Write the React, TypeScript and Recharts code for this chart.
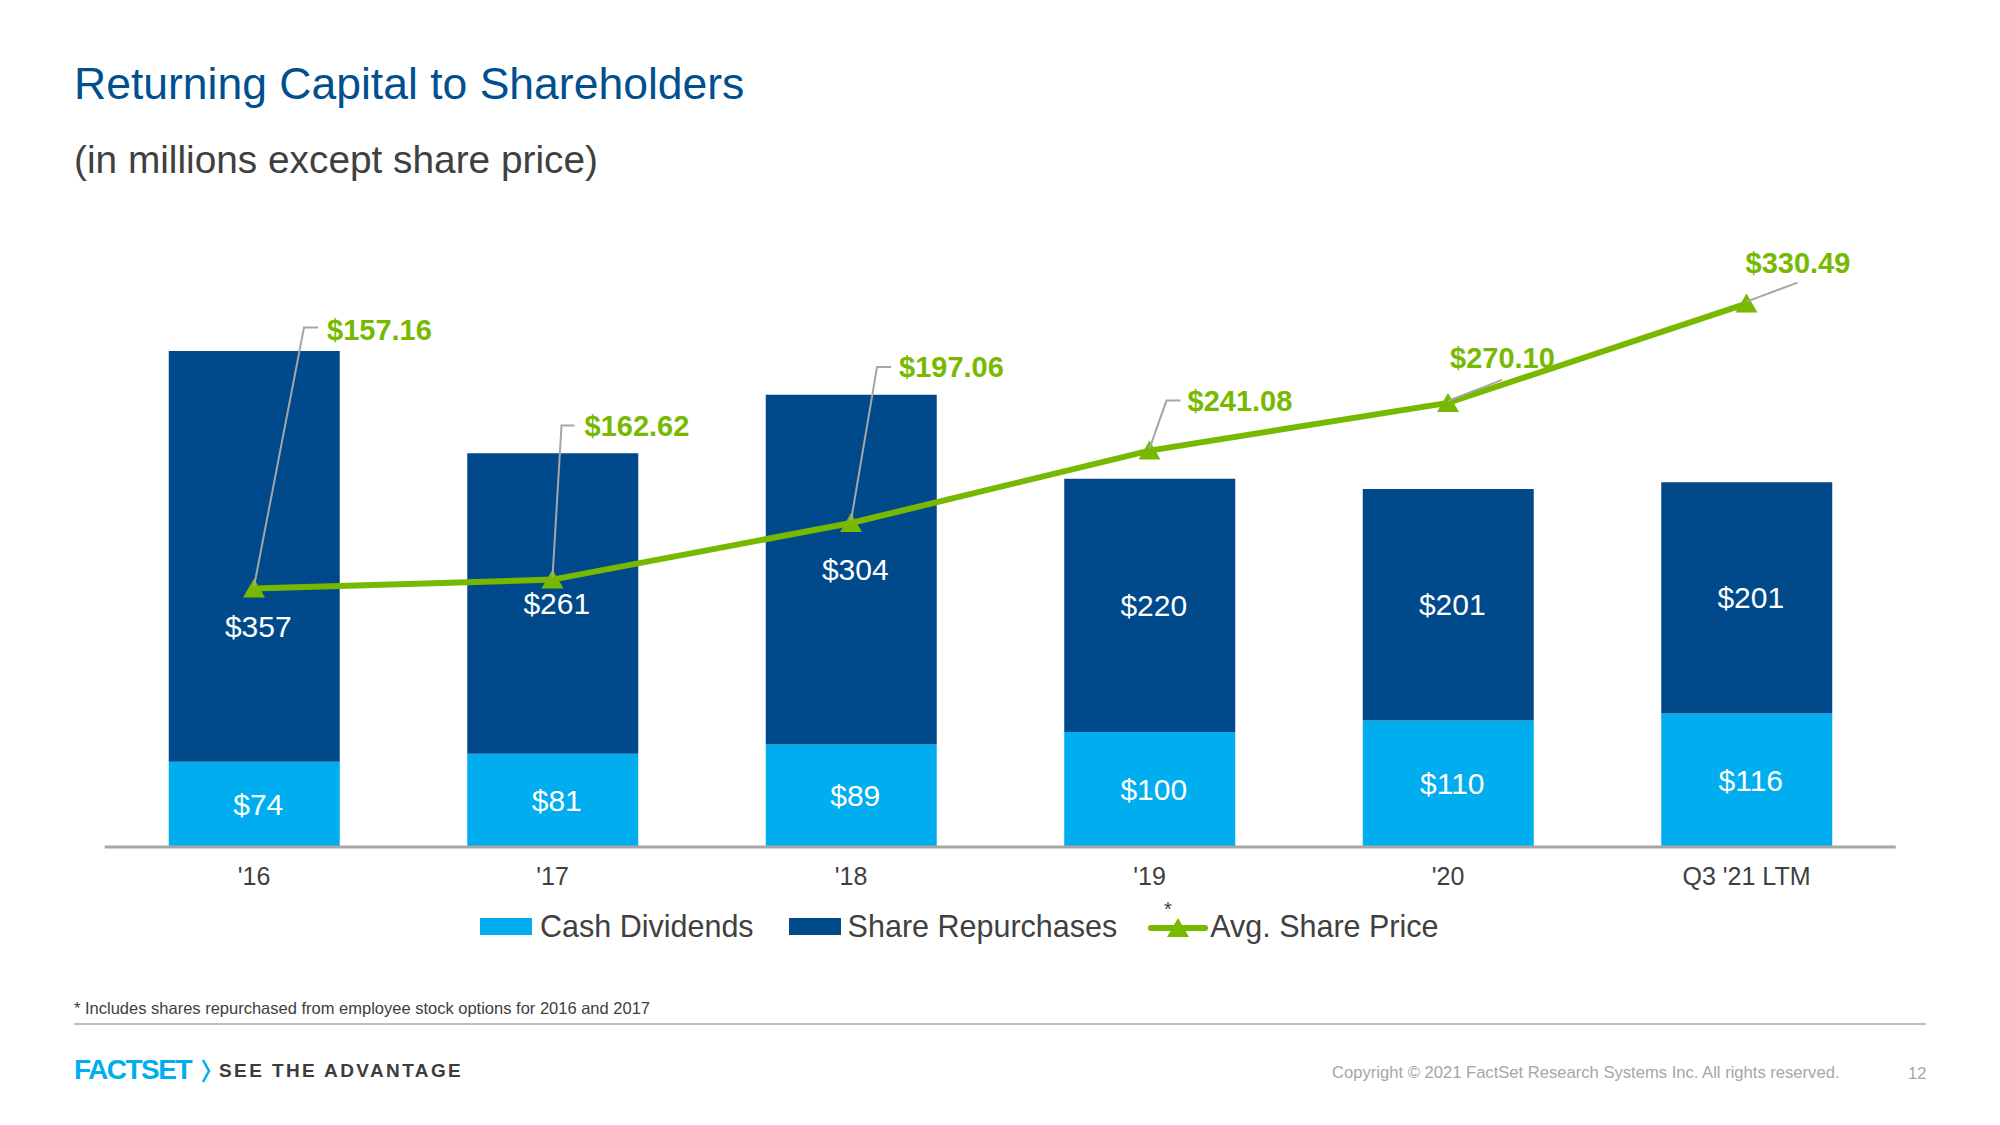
import { ComposedChart, Bar, Line, XAxis, YAxis, Legend, LabelList } from 'recharts';

const categories = ["'16", "'17", "'18", "'19", "'20", "Q3 '21 LTM"];
const cashDividends = [74, 81, 89, 100, 110, 116];
const shareRepurchases = [357, 261, 304, 220, 201, 201];
const avgSharePrice = [157.16, 162.62, 197.06, 241.08, 270.1, 330.49];

const data = categories.map((name, i) => ({
  name,
  cash: cashDividends[i],
  repurchases: shareRepurchases[i],
  price: avgSharePrice[i],
}));

const NAVY = '#004A8B';
const CYAN = '#00AEEF';
const GREEN = '#77B900';
const GREY_TEXT = '#404040';
const FONT = '"Liberation Sans", Arial, sans-serif';

// callout placement for the price labels, relative to each point
const priceCallouts = [
  { tx: 73, ty: -259, leader: [[50, -261], [64, -261]] },
  { tx: 32, ty: -154, leader: [[9, -154], [22, -154]] },
  { tx: 48, ty: -156, leader: [[26, -156], [40, -156]] },
  { tx: 38, ty: -50, leader: [[17, -50], [31, -50]] },
  { tx: 2, ty: -45, leader: [[54, -23]] },
  { tx: -1, ty: -41, leader: [[51, -21]] },
];

// the first repurchase label sits below the line
const repurchaseLabelShift = [70, 0, 0, 0, 0, 0];

const Triangle = (props: any) => {
  const { cx, cy, index } = props;
  if (cx == null || cy == null) return null;
  return (
    <path
      key={`tri-${index}`}
      d={`M${cx},${cy - 10} L${cx + 11},${cy + 9} L${cx - 11},${cy + 9} Z`}
      fill={GREEN}
    />
  );
};

const PriceLabel = (props: any) => {
  const { x, y, value, index } = props;
  const c = priceCallouts[index];
  if (!c) return null;
  const pts = [[x, y - 2], ...c.leader.map(([dx, dy]) => [x + dx, y + dy])];
  return (
    <g>
      <polyline
        points={pts.map((p) => p.join(',')).join(' ')}
        fill="none"
        stroke="#A6A6A6"
        strokeWidth={2}
      />
      <text
        x={x + c.tx}
        y={y + c.ty}
        dominantBaseline="central"
        fill={GREEN}
        fontSize={29}
        fontWeight="bold"
        fontFamily={FONT}
      >
        {`$${Number(value).toFixed(2)}`}
      </text>
    </g>
  );
};

const BarValue = (shift?: number[]) => (props: any) => {
  const { x, y, width, height, value, index } = props;
  const dy = shift ? shift[index] || 0 : 0;
  return (
    <text
      x={x + width / 2 + 4}
      y={y + height / 2 + dy}
      textAnchor="middle"
      dominantBaseline="central"
      fill="#FFFFFF"
      fontSize={30}
      fontFamily={FONT}
    >
      {`$${value}`}
    </text>
  );
};

const LegendContent = () => (
  <div style={{ display: 'flex', alignItems: 'center', fontFamily: FONT, fontSize: 30.5, color: GREY_TEXT, whiteSpace: 'nowrap' }}>
    <span style={{ width: 52, height: 17, background: CYAN, marginRight: 8 }} />
    <span style={{ marginRight: 35 }}>Cash Dividends</span>
    <span style={{ width: 52, height: 17, background: NAVY, marginRight: 7 }} />
    <span style={{ marginRight: 32 }}>Share Repurchases</span>
    <svg width={58} height={40} style={{ marginRight: 3, overflow: 'visible' }}>
      <line x1={2} y1={22} x2={56} y2={22} stroke={GREEN} strokeWidth={6} strokeLinecap="round" />
      <path d="M29,12 L40,31 L18,31 Z" fill={GREEN} />
      <text x={15} y={10} fontSize={20} fill={GREY_TEXT} fontFamily={FONT}>*</text>
    </svg>
    <span>Avg. Share Price</span>
  </div>
);

export default function App() {
  return (
    <div style={{ position: 'absolute', left: 0, top: 0, width: 2000, height: 1125, background: '#fff', fontFamily: FONT, overflow: 'hidden' }}>
      <div style={{ position: 'absolute', left: 74, top: 62, fontSize: 44.5, lineHeight: 1, color: '#00508F', whiteSpace: 'nowrap' }}>
        Returning Capital to Shareholders
      </div>
      <div style={{ position: 'absolute', left: 74, top: 141, fontSize: 38.8, lineHeight: 1, color: GREY_TEXT, whiteSpace: 'nowrap' }}>
        (in millions except share price)
      </div>

      <div style={{ position: 'absolute', left: 0, top: 0 }}>
        <ComposedChart
          width={2000}
          height={1125}
          data={data}
          margin={{ top: 271.5, right: 104.25, bottom: 248, left: 104.75 }}
        >
          <XAxis
            dataKey="name"
            height={30}
            axisLine={{ stroke: '#A6A6A6', strokeWidth: 3 }}
            tickLine={false}
            tick={{ fill: GREY_TEXT, fontSize: 25, fontFamily: FONT }}
            dy={12}
          />
          <YAxis yAxisId="left" domain={[0, 500]} hide />
          <YAxis yAxisId="right" orientation="right" domain={[0, 350]} hide />
          <Legend
            verticalAlign="middle"
            align="center"
            layout="horizontal"
            wrapperStyle={{ top: 906, left: 480, width: 'auto' }}
            content={LegendContent}
          />
          <Bar yAxisId="left" dataKey="cash" stackId="a" fill={CYAN} barSize={171} isAnimationActive={false}>
            <LabelList dataKey="cash" content={BarValue()} />
          </Bar>
          <Bar yAxisId="left" dataKey="repurchases" stackId="a" fill={NAVY} barSize={171} isAnimationActive={false}>
            <LabelList dataKey="repurchases" content={BarValue(repurchaseLabelShift)} />
          </Bar>
          <Line
            yAxisId="right"
            dataKey="price"
            type="linear"
            stroke={GREEN}
            strokeWidth={6}
            dot={Triangle}
            activeDot={false}
            isAnimationActive={false}
          >
            <LabelList dataKey="price" content={PriceLabel} />
          </Line>
        </ComposedChart>
      </div>

      <div style={{ position: 'absolute', left: 74, top: 1000, fontSize: 16.5, lineHeight: 1, color: GREY_TEXT, whiteSpace: 'nowrap' }}>
        * Includes shares repurchased from employee stock options for 2016 and 2017
      </div>
      <div style={{ position: 'absolute', left: 74, top: 1023, width: 1852, height: 2, background: '#BFBFBF' }} />

      <div style={{ position: 'absolute', left: 74, top: 1056, fontSize: 28, lineHeight: 1, fontWeight: 'bold', color: CYAN, letterSpacing: -1.5, whiteSpace: 'nowrap' }}>
        FACTSET
      </div>
      <svg style={{ position: 'absolute', left: 200, top: 1058 }} width={12} height={26}>
        <polyline points="3,2 9,13 3,24" fill="none" stroke={CYAN} strokeWidth={2.5} />
      </svg>
      <div style={{ position: 'absolute', left: 219, top: 1061, fontSize: 19, lineHeight: 1, fontWeight: 'bold', color: '#3C3C3C', letterSpacing: 2.4, whiteSpace: 'nowrap' }}>
        SEE THE ADVANTAGE
      </div>
      <div style={{ position: 'absolute', left: 1332, top: 1065, fontSize: 16.6, lineHeight: 1, color: '#A6A6A6', whiteSpace: 'nowrap' }}>
        Copyright © 2021 FactSet Research Systems Inc. All rights reserved.
      </div>
      <div style={{ position: 'absolute', left: 1908, top: 1065, fontSize: 16.5, lineHeight: 1, color: '#A6A6A6', whiteSpace: 'nowrap' }}>
        12
      </div>
    </div>
  );
}
